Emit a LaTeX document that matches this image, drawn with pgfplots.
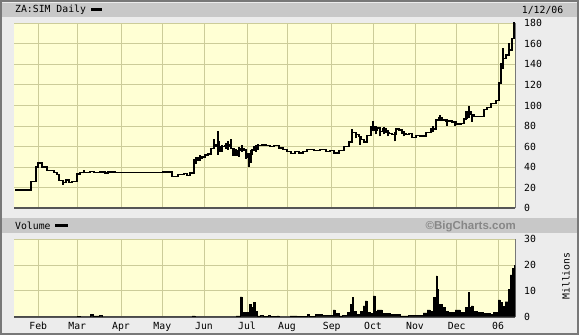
\documentclass[border=0pt]{standalone}
\usepackage{fontspec}
\usepackage{pgfplots}
\pgfplotsset{compat=1.18}
\setmainfont{DejaVu Sans Mono}
\newfontfamily\bcfont{Liberation Sans}
\definecolor{outerbg}{RGB}{236,236,236}
\definecolor{barbg}{RGB}{200,200,200}
\definecolor{plotbg}{RGB}{255,255,212}
\definecolor{gridc}{RGB}{204,204,153}
\definecolor{axc}{RGB}{85,85,85}
\definecolor{framec}{RGB}{120,120,120}
\definecolor{bctext}{RGB}{135,135,135}
\newcommand{\mf}{\fontsize{9.8}{11}\selectfont}
\pgfplotsset{
  panel/.style={
    scale only axis, width=501pt, xmin=14, xmax=515, ymin=0,
    axis background/.style={fill=plotbg},
    axis x line*=bottom, axis y line*=right,
    x axis line style={-, line width=2pt, draw=axc},
    y axis line style={-, line width=1pt, draw=framec},
    major tick length=0pt,
    grid=major, major grid style={draw=gridc, line width=1pt},
    xtick={38.3,77.3,121,162.3,204,247,287,331.7,373,415,456.7,498},
    /pgf/number format/assume math mode=true,
    yticklabel style={anchor=west, inner sep=0pt, xshift=9pt, font=\mf},
    xticklabel style={anchor=base, inner sep=0pt, font=\mf},
  }
}
\begin{document}
\begin{tikzpicture}[x=1pt,y=1pt]
\useasboundingbox (0,0) rectangle (579,335);
\fill[outerbg] (0,0) rectangle (579,335);
\draw[framec, line width=2pt] (1,1) rectangle (578,334);
\fill[barbg] (2,318) rectangle (577,332);
\fill[barbg] (2,102.3) rectangle (577,116.7);
\node[anchor=base west, inner sep=0pt, font=\mf] at (15,322) {ZA:SIM Daily};
\fill[black] (90.7,324.2) rectangle (102,327.2);
\node[anchor=base west, inner sep=0pt, font=\mf] at (521.7,321.7) {1/12/06};
\node[anchor=base west, inner sep=0pt, font=\mf] at (15,105.7) {Volume};
\fill[black] (55,108) rectangle (67.7,111);
\node[anchor=base east, inner sep=0pt, font=\bcfont\bfseries\fontsize{11.5}{13}\selectfont, text=bctext] at (516,105.7) {©BigCharts.com};
\node[rotate=90, inner sep=0pt, font=\mf] at (566,59) {Millions};

\begin{axis}[panel, at={(14pt,126.7pt)}, anchor=south west, height=185.6pt,
  ymax=180.6, ytick={0,20,...,180}, xticklabels={}]
\addplot[black, line width=1.4pt, const plot, mark=none] coordinates {
(15,18) (31,26) (36,40) (38,44) (42,40) (47,37) (54,35) (57,33) (59,27) (63,25)
(66,27.5) (69,25) (72,26) (77,33.5) (80,35) (90,36) (94,35) (100,35.5) (105,34.5)
(108,35.5) (115,35) (120,34.6) (163,35.5) (172,31) (178,33) (184,34) (187,32)
(190,34.5) (194,47) (198,49) (202,50) (205,52) (208,53) (211,58) (214,62) (216,60)
(218,65) (219,55) (221,60) (225,60.5) (229,62) (231,58) (234,52) (237,56) (240,58)
(244,56) (246,50) (248,53) (249,45) (251,56) (254,60) (258,61) (262,61.5) (266,61)
(270,60) (274,61) (279,58.6) (283,57) (287,55) (291,53.5) (295,55) (299,54) (303,55)
(307,57) (314,56) (320,57) (326,55.5) (330,56.5) (334,54) (339,56) (344,60)
(349,64.5) (352,74) (356,72) (359,70) (361,67) (364,64.5) (367,71) (371,79)
(374,76) (377,78) (380,75) (383,77) (386,74) (389,73) (392,72) (396,77) (399,76)
(402,73) (406,72) (409,73) (412,69) (416,71) (420,70.5) (426,74) (431,77) (436,86)
(439,88.5) (442,86) (446,85) (452,84) (456,82) (461,82.5) (464,87.5) (467,94)
(471,91) (474,89.5) (484,96) (487,98) (491,102) (496,105) (499,122) (501,138)
(503,146) (506,149) (509,154) (512,165) (514,178) (515,178)};
\addplot[black, line width=1.4pt, mark=none, unbounded coords=jump] coordinates {
(63,23) (63,28) (63,nan) (84,34) (84,37) (84,nan)
(196,43) (196,50) (196,nan) (200,46) (200,52) (200,nan)
(214,58) (214,67) (214,nan) (218,52) (218,75.5) (218,nan)
(222,55) (222,62) (222,nan) (226,58) (226,64) (226,nan)
(228,57) (228,65) (228,nan)
(231,58) (231,67) (231,nan) (233,51) (233,58) (233,nan)
(236,52) (236,58) (236,nan) (239,50) (239,60) (239,nan)
(242,55) (242,62) (242,nan) (246,48) (246,58) (246,nan)
(249,40.5) (249,53) (249,nan) (252,52) (252,58) (252,nan)
(256,55) (256,62) (256,nan) (258,57) (258,63) (258,nan)
(352,64) (352,77) (352,nan) (356,68) (356,74) (356,nan)
(360,62) (360,70) (360,nan) (373,75) (373,85) (373,nan)
(376,72) (376,80) (376,nan) (380,70) (380,78) (380,nan)
(384,72) (384,79) (384,nan) (388,70) (388,76) (388,nan)
(395,65) (395,74) (395,nan) (404,70) (404,75) (404,nan)
(433,74) (433,80) (433,nan) (440,85) (440,91) (440,nan)
(447,80) (447,87) (447,nan) (455,80) (455,85) (455,nan)
(466,86) (466,95) (466,nan)
(469,88) (469,100) (469,nan) (472,84) (472,92) (472,nan)
(501,125) (501,141) (501,nan) (503,136) (503,156) (503,nan)
(509,150) (509,160.8) (509,nan) (514,165) (514,181)};
\end{axis}

\begin{axis}[panel, at={(14pt,18.3pt)}, anchor=south west, height=77.4pt,
  ymax=30, ytick={0,10,20,30},
  xticklabels={Feb,Mar,Apr,May,Jun,Jul,Aug,Sep,Oct,Nov,Dec,06},
  xticklabel style={yshift=-12.6pt}]
\addplot[fill=black, draw=black, line width=0.4pt, const plot, mark=none] coordinates {
(14,0) (77,0.2) (80,0) (90,0.8) (93,0.3) (99,0.5) (102,0) (192,0.3) (195,0)
(236,0.3) (240,7.7) (242,1.6) (249,4.8) (251,1.6) (252,3.5) (253,5.5) (255,2.2)
(257,0.3) (260,0.6) (263,0.2) (268,0.5) (270,0.1) (277,0.3) (279,0) (290,0.3)
(297,0.1) (307,0.9) (309,0.2) (315,1) (322,0.5) (333,2.6) (335,1.3) (339,0.3)
(342,0.6) (347,1.8) (350,4.8) (352,7.4) (353,2.2) (356,0.6) (357,1) (360,2.2)
(363,4.2) (365,6.1) (367,1.6) (370,1.3) (373,8.1) (375,2.2) (377,2.6) (382,1.3)
(390,1.0) (395,0.8) (400,0.3) (408,0.5) (423,1.5) (427,2.6) (430,2.2) (433,7.4)
(435,2.2) (436,15.8) (437,10.6) (438,4.8) (442,3.5) (445,2.2) (448,1.6) (455,2.6)
(460,1.8) (465,3.5) (468,9.4) (469,3.5) (471,4.2) (473,2.2) (477,1.6) (483,1.3)
(490,0.9) (493,1.6) (498,6.5) (500,5.5) (502,3.9) (505,5.8) (508,10.6) (510,16.2)
(512,18.8) (514,19.9) (515,19.9)} \closedcycle;
\end{axis}
\end{tikzpicture}
\end{document}
